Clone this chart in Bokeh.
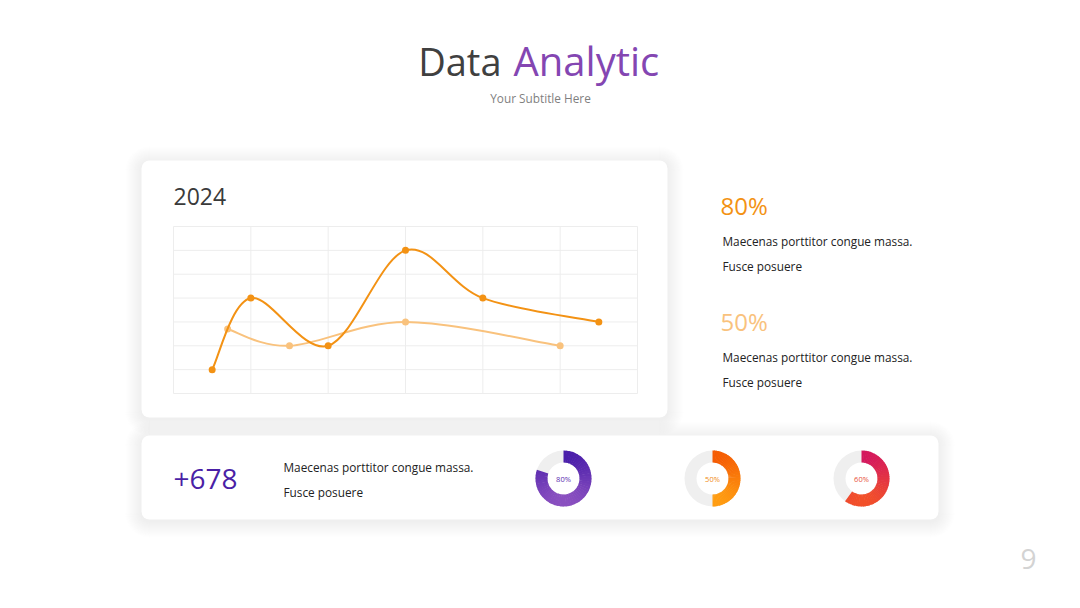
import math
from bokeh.plotting import figure
from bokeh.models import Range1d
from bokeh.core.properties import value
from bokeh.embed import file_html
from bokeh.resources import INLINE

# ---------------- data ----------------
title_dark = "Data"
title_accent = "Analytic"
subtitle = "Your Subtitle Here"
chart_year = "2024"

series_a_x = [0.5, 1, 2, 3, 4, 5.5]
series_a_y = [1, 4, 2, 6, 4, 3]
series_b_x = [0.7, 1.5, 3, 5]
series_b_y = [2.7, 2, 3, 2]
grid_x = [0, 1, 2, 3, 4, 5, 6]
grid_y = [0, 1, 2, 3, 4, 5, 6, 7]

stat_values = ["80%", "50%"]
stat_line_1 = "Maecenas porttitor congue massa."
stat_line_2 = "Fusce posuere"
counter = "+678"
donut_values = [80, 50, 60]
donut_labels = ["80%", "50%", "60%"]
page_number = "9"

# ---------------- styles ----------------
FONT = "Open Sans"
W, H = 1080, 608
ORANGE = "#f39214"
LIGHT_ORANGE = "#f9c27d"
PURPLE = "#8446b2"
DARK = "#404040"
BODY = "#222222"

p = figure(width=W, height=H, x_range=Range1d(0, W), y_range=Range1d(H, 0),
           output_backend="svg", toolbar_location=None, min_border=0,
           x_axis_type=None, y_axis_type=None)
p.grid.visible = False
p.outline_line_color = None
p.background_fill_color = "white"
p.border_fill_color = "white"

# ---------------- cards with soft shadow ----------------
cards = [(141, 667, 160, 417), (141, 938, 435, 519)]
for (l, r, t, b) in cards:
    for k in range(16, 0, -1):
        p.quad(left=[l - k], right=[r + k], top=[t - k + 2], bottom=[b + k + 2],
               border_radius=8 + k, fill_color="#e0e0e0", fill_alpha=0.02, line_color=None)
for (l, r, t, b) in cards:
    p.quad(left=[l], right=[r], top=[t], bottom=[b], border_radius=8,
           fill_color="white", line_color=None)

# ---------------- titles ----------------
p.text(x=[501], y=[60], text=[title_dark], text_align="right", text_baseline="middle",
       text_font=value(FONT), text_font_size="38px", text_color=DARK)
p.text(x=[513], y=[60], text=[title_accent], text_align="left", text_baseline="middle",
       text_font=value(FONT), text_font_size="40px", text_color=PURPLE)
p.text(x=[540], y=[97], text=[subtitle], text_align="center", text_baseline="middle",
       text_font=value(FONT), text_font_size="11.8px", text_color="#7f7f7f")

# ---------------- line chart (own scales mapped into the card) ----------------
fx0, fx1 = 173.0, 637.0
fy0, fy1 = 393.0, 226.0
xmin, xmax = grid_x[0], grid_x[-1]
ymin, ymax = grid_y[0], grid_y[-1]
dx = (xmax - xmin) / (fx1 - fx0)
dy = (ymax - ymin) / (fy0 - fy1)
p.extra_x_ranges = {"cx": Range1d(xmin - fx0 * dx, xmin - fx0 * dx + W * dx)}
p.extra_y_ranges = {"cy": Range1d(ymin - (H - fy0) * dy, ymax + fy1 * dy)}
ck = dict(x_range_name="cx", y_range_name="cy")

p.segment(x0=grid_x, y0=[ymin] * len(grid_x), x1=grid_x, y1=[ymax] * len(grid_x),
          line_color="#ededed", line_width=1, **ck)
p.segment(x0=[xmin] * len(grid_y), y0=grid_y, x1=[xmax] * len(grid_y), y1=grid_y,
          line_color="#ededed", line_width=1, **ck)


def catmull_bezier(xs, ys):
    n = len(xs)
    out = {k: [] for k in ("x0", "y0", "x1", "y1", "cx0", "cy0", "cx1", "cy1")}
    for i in range(n - 1):
        i0 = max(i - 1, 0)
        i3 = min(i + 2, n - 1)
        out["x0"].append(xs[i]); out["y0"].append(ys[i])
        out["x1"].append(xs[i + 1]); out["y1"].append(ys[i + 1])
        out["cx0"].append(xs[i] + (xs[i + 1] - xs[i0]) / 6.0)
        out["cy0"].append(ys[i] + (ys[i + 1] - ys[i0]) / 6.0)
        out["cx1"].append(xs[i + 1] - (xs[i3] - xs[i]) / 6.0)
        out["cy1"].append(ys[i + 1] - (ys[i3] - ys[i]) / 6.0)
    return out


p.bezier(**catmull_bezier(series_b_x, series_b_y), line_color=LIGHT_ORANGE, line_width=2, **ck)
p.scatter(series_b_x, series_b_y, size=7, fill_color=LIGHT_ORANGE, line_color=None, **ck)
p.bezier(**catmull_bezier(series_a_x, series_a_y), line_color=ORANGE, line_width=2, **ck)
p.scatter(series_a_x, series_a_y, size=7, fill_color=ORANGE, line_color=None, **ck)

p.text(x=[173], y=[196], text=[chart_year], text_align="left", text_baseline="middle",
       text_font=value(FONT), text_font_size="23px", text_color="#3a3a3a")

# ---------------- right-hand stats ----------------
stat_colors = [ORANGE, LIGHT_ORANGE]
for i, (sv, sc) in enumerate(zip(stat_values, stat_colors)):
    y0 = 205 + i * 116
    p.text(x=[720], y=[y0], text=[sv], text_align="left", text_baseline="middle",
           text_font=value(FONT), text_font_size="24px", text_color=sc)
    p.text(x=[722], y=[y0 + 35], text=[stat_line_1], text_align="left", text_baseline="middle",
           text_font=value(FONT), text_font_size="11.8px", text_color=BODY)
    p.text(x=[722], y=[y0 + 60], text=[stat_line_2], text_align="left", text_baseline="middle",
           text_font=value(FONT), text_font_size="11.8px", text_color=BODY)

# ---------------- bottom card ----------------
p.text(x=[173], y=[478], text=[counter], text_align="left", text_baseline="middle",
       text_font=value(FONT), text_font_size="28px", text_color="#4a1fa6")
p.text(x=[283], y=[466], text=[stat_line_1], text_align="left", text_baseline="middle",
       text_font=value(FONT), text_font_size="11.8px", text_color=BODY)
p.text(x=[283], y=[491], text=[stat_line_2], text_align="left", text_baseline="middle",
       text_font=value(FONT), text_font_size="11.8px", text_color=BODY)


def hex_to_rgb(h):
    h = h.lstrip("#")
    return tuple(int(h[i:i + 2], 16) for i in (0, 2, 4))


def mix(c1, c2, t):
    a, b = hex_to_rgb(c1), hex_to_rgb(c2)
    return "#%02x%02x%02x" % tuple(int(round(a[i] + (b[i] - a[i]) * t)) for i in range(3))


donut_cx = [563, 712, 861]
donut_cy = 478
donut_grad = [("#4a1eaa", "#8a50c0"), ("#f55c04", "#ff9d12"), ("#d4185e", "#f2502a")]
donut_text = ["#5a2db0", "#f08a14", "#e8503a"]
R_OUT, R_IN = 28, 16
p.annulus(x=donut_cx, y=[donut_cy] * 3, inner_radius=R_IN, outer_radius=R_OUT,
          inner_radius_units="screen", outer_radius_units="screen",
          fill_color="#efefef", line_color=None)
NSEG = 48
for cx, v, (ctop, cbot) in zip(donut_cx, donut_values, donut_grad):
    frac = v / 100.0
    starts, ends, cols = [], [], []
    for s in range(NSEG):
        a0 = frac * s / NSEG
        a1 = min(frac * (s + 1) / NSEG + 0.004, frac)
        am = (a0 + a1) / 2
        ang = math.pi / 2 - 2 * math.pi * am
        t = (1 - math.sin(ang)) / 2  # 0 at top, 1 at bottom
        starts.append(math.pi / 2 - 2 * math.pi * a0)
        ends.append(math.pi / 2 - 2 * math.pi * a1)
        cols.append(mix(ctop, cbot, t))
    p.annular_wedge(x=[cx] * NSEG, y=[donut_cy] * NSEG, inner_radius=R_IN, outer_radius=R_OUT,
                    inner_radius_units="screen", outer_radius_units="screen",
                    start_angle=starts, end_angle=ends, direction="clock",
                    fill_color=cols, line_color=None)
for cx, lab, tc in zip(donut_cx, donut_labels, donut_text):
    p.text(x=[cx], y=[donut_cy], text=[lab], text_align="center", text_baseline="middle",
           text_font=value(FONT), text_font_size="7.5px", text_color=tc)

p.text(x=[1028], y=[558], text=[page_number], text_align="center", text_baseline="middle",
       text_font=value(FONT), text_font_size="28px", text_color="#d3d3d3")

open("out.html", "w").write(file_html(p, INLINE))
